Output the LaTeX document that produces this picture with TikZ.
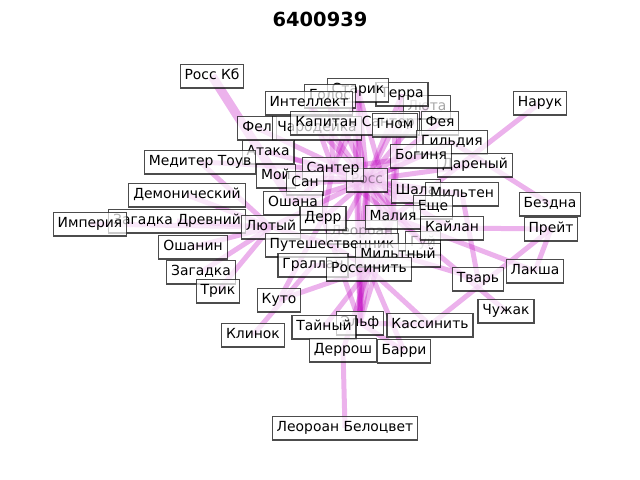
\documentclass[tikz,border=0pt]{standalone}
\usepackage{fontspec}
\setmainfont{DejaVu Sans}
\usetikzlibrary{backgrounds}
\definecolor{edgemag}{RGB}{191,0,191}

\begin{document}
\begin{tikzpicture}[x=0.72pt, y=-0.72pt,
  every node/.style={draw=black, draw opacity=0.7, fill=white, fill opacity=0.7, text opacity=1,
    line width=0.8pt, inner xsep=3.2pt, inner ysep=3.6pt, text height=7.6pt, text depth=2.4pt,
    font=\fontsize{10}{12}\selectfont},
  faded/.style={text opacity=0.35},
  link/.style={draw=edgemag, draw opacity=0.3, line width=3.6pt},
  heavylink/.style={link, line width=6.5pt}]
\useasboundingbox (0,0) rectangle (640,480);
\node[draw=none, fill=none, font=\fontsize{14}{16}\selectfont\bfseries] (title) at (320,23) {6400939};
% labels, back to front
\node[faded] (ross) at (367,180) {Росс};
\node[faded] (leoroan) at (362,232) {Леороан};
\node[faded] (guy) at (423,243) {Гуй};
\node[faded] (lyuta) at (427,107) {Люта};
\node (terra) at (402,94) {Терра};
\node (starik) at (358,90) {Старик};
\node (golos) at (330,96) {Голос};
\node (intellekt) at (309,103) {Интеллект};
\node (fel) at (257,128) {Фел};
\node (charod) at (317,128) {Чародейка};
\node (kapitan) at (355,123) {Капитан Сантер};
\node (gnom) at (395,125) {Гном};
\node (feya) at (440,123) {Фея};
\node (gildiya) at (452,142) {Гильдия};
\node (dareniy) at (475,165) {Дареный};
\node (boginya) at (421,156) {Богиня};
\node (rossKb) at (212,76) {Росс Кб};
\node (naruk) at (540,103) {Нарук};
\node (ataka) at (268,152) {Атака};
\node (meditr) at (200,162) {Медитер Тоув};
\node (moy) at (276,176) {Мой};
\node (santer) at (333,169) {Сантер};
\node (san) at (305,183) {Сан};
\node (shala) at (416,191) {Шала};
\node (milten) at (462,194) {Мильтен};
\node (eshe) at (433,207) {Еще};
\node (demon) at (187,195) {Демонический};
\node (oshana) at (293,203) {Ошана};
\node (bezdna) at (550,204) {Бездна};
\node (zagDrev) at (177,221) {Загадка Древний};
\node (imperiya) at (90,224) {Империя};
\node (derr) at (323,218) {Дерр};
\node (malia) at (393,217) {Малия};
\node (lyutiy) at (271,227) {Лютый};
\node (kaylan) at (452,228) {Кайлан};
\node (preyt) at (551,229) {Прейт};
\node (puteshest) at (332,245) {Путешественник};
\node (miltniy) at (398,255) {Мильтный};
\node (oshanin) at (193,247) {Ошанин};
\node (grallan) at (313,265) {Граллан};
\node (rossinit) at (369,269) {Россинить};
\node (zagadka) at (201,272) {Загадка};
\node (tvar) at (478,279) {Тварь};
\node (laksha) at (535,271) {Лакша};
\node (trik) at (218,291) {Трик};
\node (kuto) at (279,300) {Куто};
\node (chuzhak) at (506,311) {Чужак};
\node (klinok) at (253,335) {Клинок};
\node (elf) at (360,323) {Эльф};
\node (tayniy) at (324,327) {Тайный};
\node (kassin) at (430,325) {Кассинить};
\node (derrosh) at (343,350) {Деррош};
\node (barri) at (404,351) {Барри};
\node (leoBel) at (345,428) {Леороан Белоцвет};
% links
\begin{scope}[on background layer]
\draw[link] (ross.center) -- (starik.center);
\draw[link] (ross.center) -- (golos.center);
\draw[link] (ross.center) -- (terra.center);
\draw[link] (ross.center) -- (lyuta.center);
\draw[link] (ross.center) -- (intellekt.center);
\draw[link] (ross.center) -- (kapitan.center);
\draw[link] (ross.center) -- (gnom.center);
\draw[link] (ross.center) -- (feya.center);
\draw[link] (ross.center) -- (charod.center);
\draw[link] (ross.center) -- (gildiya.center);
\draw[link] (ross.center) -- (ataka.center);
\draw[link] (ross.center) -- (boginya.center);
\draw[link] (ross.center) -- (dareniy.center);
\draw[link] (ross.center) -- (santer.center);
\draw[link] (ross.center) -- (san.center);
\draw[link] (ross.center) -- (shala.center);
\draw[link] (ross.center) -- (milten.center);
\draw[link] (ross.center) -- (eshe.center);
\draw[link] (ross.center) -- (malia.center);
\draw[link] (ross.center) -- (derr.center);
\draw[link] (ross.center) -- (leoroan.center);
\draw[link] (ross.center) -- (puteshest.center);
\draw[link] (ross.center) -- (kaylan.center);
\draw[link] (ross.center) -- (rossinit.center);
\draw[link] (ross.center) -- (miltniy.center);
\draw[link] (ross.center) -- (guy.center);
\draw[link] (ross.center) -- (oshana.center);
\draw[link] (ross.center) -- (moy.center);
\draw[link] (ross.center) -- (fel.center);
\draw[link] (ross.center) -- (lyutiy.center);
\draw[link] (ross.center) -- (elf.center);
\draw[link] (santer.center) -- (kapitan.center);
\draw[link] (santer.center) -- (intellekt.center);
\draw[link] (santer.center) -- (golos.center);
\draw[link] (santer.center) -- (ataka.center);
\draw[link] (santer.center) -- (moy.center);
\draw[link] (santer.center) -- (oshana.center);
\draw[link] (santer.center) -- (derr.center);
\draw[link] (santer.center) -- (malia.center);
\draw[link] (santer.center) -- (meditr.center);
\draw[link] (santer.center) -- (starik.center);
\draw[link] (santer.center) -- (boginya.center);
\draw[link] (malia.center) -- (terra.center);
\draw[link] (malia.center) -- (gnom.center);
\draw[link] (malia.center) -- (starik.center);
\draw[link] (malia.center) -- (rossinit.center);
\draw[link] (malia.center) -- (elf.center);
\draw[link] (malia.center) -- (naruk.center);
\draw[link] (malia.center) -- (laksha.center);
\draw[link] (malia.center) -- (chuzhak.center);
\draw[link] (rossinit.center) -- (elf.center);
\draw[link] (rossinit.center) -- (tayniy.center);
\draw[link] (rossinit.center) -- (kassin.center);
\draw[link] (rossinit.center) -- (barri.center);
\draw[link] (rossinit.center) -- (derrosh.center);
\draw[link] (rossinit.center) -- (kuto.center);
\draw[link] (rossinit.center) -- (grallan.center);
\draw[link] (rossinit.center) -- (puteshest.center);
\draw[link] (rossinit.center) -- (miltniy.center);
\draw[link] (lyutiy.center) -- (imperiya.center);
\draw[link] (lyutiy.center) -- (zagDrev.center);
\draw[link] (lyutiy.center) -- (demon.center);
\draw[link] (lyutiy.center) -- (oshanin.center);
\draw[link] (lyutiy.center) -- (zagadka.center);
\draw[link] (lyutiy.center) -- (trik.center);
\draw[link] (lyutiy.center) -- (meditr.center);
\draw[link] (lyutiy.center) -- (puteshest.center);
\draw[link] (elf.center) -- (kapitan.center);
\draw[link] (elf.center) -- (starik.center);
\draw[link] (elf.center) -- (derr.center);
\draw[link] (elf.center) -- (leoroan.center);
\draw[link] (elf.center) -- (kassin.center);
\draw[link] (elf.center) -- (barri.center);
\draw[heavylink] (rossKb.center) -- (oshana.center);
\draw[link] (gildiya.center) -- (bezdna.center);
\draw[link] (kaylan.center) -- (preyt.center);
\draw[link] (kassin.center) -- (preyt.center);
\draw[link] (preyt.center) -- (laksha.center);
\draw[link] (milten.center) -- (tvar.center);
\draw[link] (miltniy.center) -- (tvar.center);
\draw[link] (derrosh.center) -- (leoBel.center);
\draw[link] (klinok.center) -- (grallan.center);
\draw[link] (kuto.center) -- (derr.center);
\end{scope}
\end{tikzpicture}
\end{document}
